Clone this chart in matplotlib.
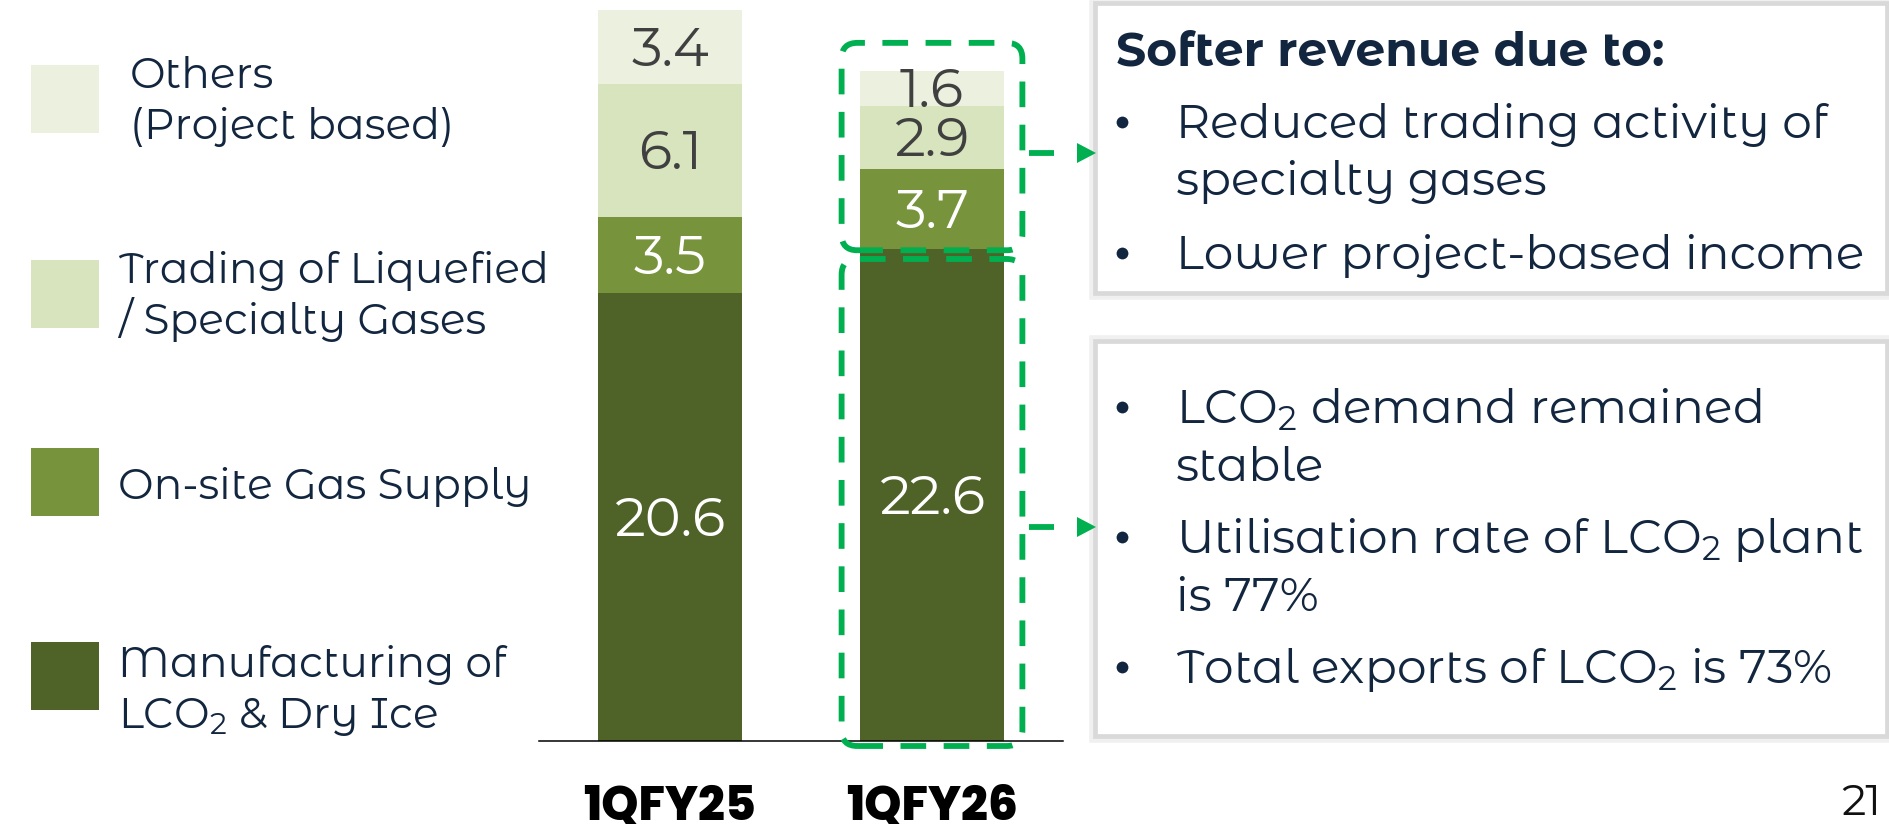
import matplotlib
matplotlib.use("Agg")
import matplotlib.pyplot as plt
from matplotlib.patches import Rectangle, FancyBboxPatch, Polygon

# data (revenue split, RM mil)
categories = ["1QFY25", "1QFY26"]
series_names = ["Others\n(Project based)", "Trading of Liquefied\n/ Specialty Gases",
                "On-site Gas Supply", "Manufacturing of\nLCO$_2$ & Dry Ice"]
manufacturing = [20.6, 22.6]
onsite = [3.5, 3.7]
trading = [6.1, 2.9]
others = [3.4, 1.6]

top_box_title = "Softer revenue due to:"
top_box_lines = ["Reduced trading activity of\nspecialty gases", "Lower project-based income"]
bottom_box_lines = ["LCO$_2$ demand remained\nstable", "Utilisation rate of LCO$_2$ plant\nis 77%",
                    "Total exports of LCO$_2$ is 73%"]
page_no = "21"

col_others = "#EBF1DE"
col_trading = "#D7E4BD"
col_onsite = "#77933C"
col_manu = "#4F6228"
green = "#00B050"
navy = "#13263F"

FONT = ["Montserrat Alternates", "Poppins", "DejaVu Sans"]
plt.rcParams["font.family"] = FONT
plt.rcParams["mathtext.default"] = "regular"

W, H = 1890, 824
fig = plt.figure(figsize=(W / 100, H / 100), dpi=100)
fig.patch.set_facecolor("white")

# overlay in pixel coordinates for the decorations (legend, text boxes)
ov = fig.add_axes([0, 0, 1, 1], zorder=0)
ov.set_xlim(0, W)
ov.set_ylim(H, 0)
ov.axis("off")

# ---- bar chart ----
base_px = 741
ax = fig.add_axes([539 / W, (H - base_px) / H, 524 / W, base_px / H], zorder=2)
ax.patch.set_alpha(0)
x = [0, 1]
bw = 0.55
stack = [manufacturing, onsite, trading, others]
cols = [col_manu, col_onsite, col_trading, col_others]
txtcols = ["white", "white", "#404040", "#404040"]
lab_size = 39
bottom = [0, 0]
for vals, c, tc in zip(stack, cols, txtcols):
    ax.bar(x, vals, bw, bottom=bottom, color=c, edgecolor="none", zorder=2)
    for i in range(len(x)):
        # baseline shifted down by half the digit height so the digits sit centred
        ax.annotate("%.1f" % vals[i], (x[i], bottom[i] + vals[i] / 2),
                    xytext=(0, -0.35 * lab_size), textcoords="offset points",
                    ha="center", va="baseline", color=tc, fontsize=lab_size,
                    fontweight="normal", zorder=3)
    bottom = [b + v for b, v in zip(bottom, vals)]
totals = bottom

ax.set_xlim(-0.5, 1.5)
ax.set_ylim(0, 34.05)
for s in ["top", "left", "right"]:
    ax.spines[s].set_visible(False)
ax.spines["bottom"].set_color("black")
ax.spines["bottom"].set_linewidth(1.1)
ax.set_yticks([])
ax.set_xticks(x, labels=categories)
ax.tick_params(axis="x", length=0, pad=31)
for lab in ax.get_xticklabels():
    lab.set_family(["Poppins", "DejaVu Sans"])
    lab.set_fontweight(800)
    lab.set_fontsize(34)
    lab.set_color("black")

# dashed call-out boxes around the 1QFY26 bar
asp = 262.5 / 21.76
half = 0.345
dash = (0, (4.4, 3.0))
y_split = manufacturing[1]
boxes = [(y_split - 0.05, totals[1] + 1.28), (-0.23, y_split - 0.45)]
for y0, y1 in boxes:
    p = FancyBboxPatch((x[1] - half, y0), 2 * half, y1 - y0,
                       boxstyle="round,pad=0,rounding_size=0.06", mutation_aspect=asp,
                       fill=False, edgecolor=green, linewidth=4.2, linestyle=dash,
                       clip_on=False, zorder=4)
    ax.add_patch(p)

# ---- legend ----
leg_y = [65, 260, 448, 642]
leg_tx = [130, 118, 118, 118]
leg_base = [88, 283, 499, 677]
leg_cols = [col_others, col_trading, col_onsite, col_manu]
for name, y, tx, yb, c in zip(series_names, leg_y, leg_tx, leg_base, leg_cols):
    ov.add_patch(Rectangle((31, y), 68, 68, facecolor=c, edgecolor="none"))
    for k, line in enumerate(name.split("\n")):
        ov.text(tx, yb + k * 51, line, fontsize=30.5, color=navy, ha="left", va="baseline")

# ---- text boxes on the right ----
for (bx0, by0, bx1, by1) in [(1095, 3, 1887, 293), (1095, 341, 1887, 736)]:
    ov.add_patch(Rectangle((bx0, by0), bx1 - bx0, by1 - by0, facecolor="white",
                           edgecolor="#F0F0F0", linewidth=9, zorder=1))
    ov.add_patch(Rectangle((bx0, by0), bx1 - bx0, by1 - by0, facecolor="white",
                           edgecolor="#D9D9D9", linewidth=3.4, zorder=2))

ov.text(1116, 65, top_box_title, fontsize=34, fontweight="bold", color=navy,
        ha="left", va="baseline", zorder=3)


def bullets(items, first_base, line_gap, item_gap):
    yb = first_base
    for item in items:
        ov.plot([1122], [yb - 16], marker="o", markersize=8.5, color=navy,
                markeredgewidth=0, zorder=3)
        for line in item.split("\n"):
            ov.text(1176, yb, line, fontsize=34, color=navy, ha="left", va="baseline", zorder=3)
            yb += line_gap
        yb += item_gap - line_gap


bullets(top_box_lines, 138, 57, 74)
bullets(bottom_box_lines, 423, 58, 72)

# arrows from the dashed boxes to the text boxes
for ya in [153, 527]:
    ov.plot([1029, 1054], [ya, ya], color=green, linewidth=4.2, solid_capstyle="butt", zorder=4)
    ov.add_patch(Polygon([[1077, ya - 10], [1096, ya], [1077, ya + 10]], closed=True,
                         facecolor=green, edgecolor="none", zorder=4))

ov.text(1881, 815, page_no, fontsize=31, fontweight="normal", color="#111111", ha="right", va="baseline")

fig.savefig("out.png", dpi=100, facecolor="white")
